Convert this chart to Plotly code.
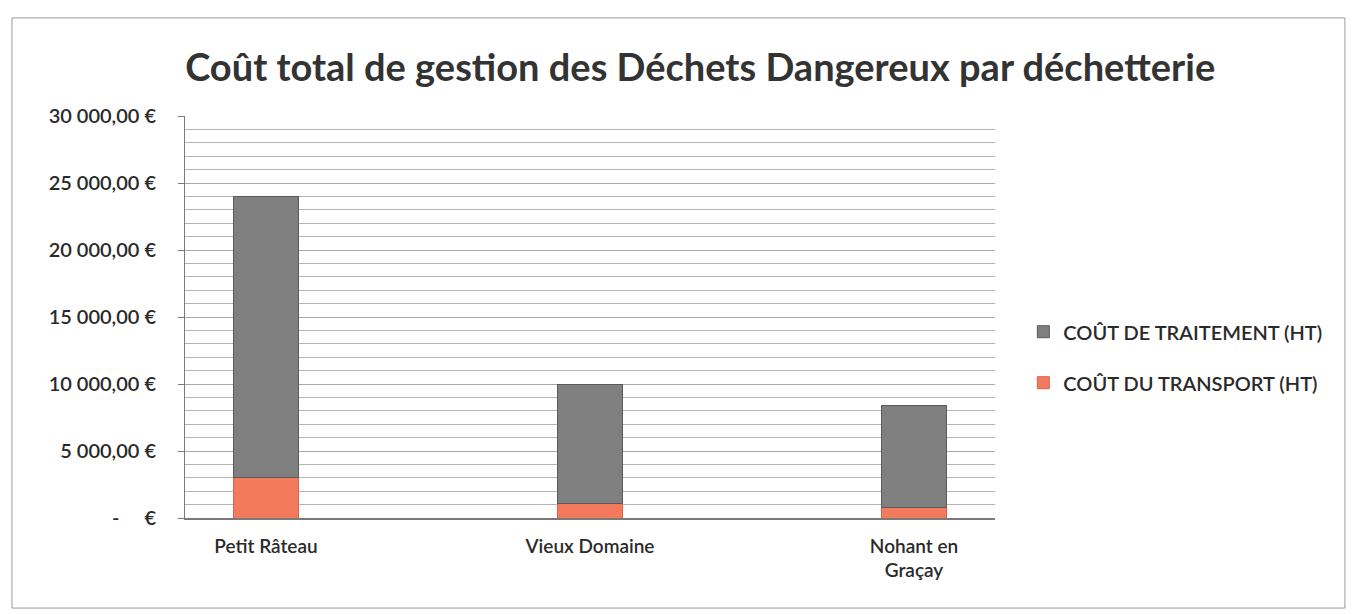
import plotly.graph_objects as go

# Données
sites = ["Petit Râteau", "Vieux Domaine", "Nohant en<br>Graçay"]
cout_transport = [3000, 1100, 800]
cout_traitement = [21000, 8900, 7600]

tick_vals = [0, 5000, 10000, 15000, 20000, 25000, 30000]
tick_text = ["-     €", "5 000,00 €", "10 000,00 €", "15 000,00 €",
             "20 000,00 €", "25 000,00 €", "30 000,00 €"]

font_family = "Lato, 'Open Sans', sans-serif"
text_color = "#2a2a2a"

fig = go.Figure()
fig.add_trace(go.Bar(
    x=sites, y=cout_transport, name="COÛT DU TRANSPORT (HT)",
    legendgroup="transport", legendrank=2,
    marker=dict(color="#f47a5e", line=dict(color="#d9624a", width=1))))
fig.add_trace(go.Bar(
    x=sites, y=cout_traitement, name="COÛT DE TRAITEMENT (HT)",
    legendgroup="traitement", legendrank=1,
    marker=dict(color="#808080", line=dict(color="#5a5a5a", width=1))))

fig.update_layout(
    barmode="stack",
    bargap=0.8,
    width=1357, height=614,
    paper_bgcolor="white", plot_bgcolor="white",
    margin=dict(l=177, r=370, t=108, b=104),
    font=dict(family=font_family, size=19, color=text_color),
    title=dict(
        text="<b>Coût total de gestion des Déchets Dangereux par déchetterie</b>",
        x=0.636, xref="paper", xanchor="center", y=0.902, yanchor="middle",
        font=dict(size=38, color="#333333")),
    legend=dict(
        x=1.035, y=0.40, xanchor="left", yanchor="middle",
        traceorder="grouped", tracegroupgap=22,
        font=dict(size=20, color=text_color, weight=600), itemwidth=30),
    showlegend=True,
)

fig.update_yaxes(
    range=[0, 30000], tickvals=tick_vals, ticktext=tick_text,
    showline=True, linecolor="#7a7a7a", linewidth=1,
    ticks="outside", ticklen=6, tickcolor="#7a7a7a",
    ticklabelstandoff=18,
    showgrid=True, gridcolor="#a8a8a8", gridwidth=1,
    minor=dict(dtick=1000, showgrid=True, gridcolor="#b4b4b4", gridwidth=1),
    zeroline=False, tickfont=dict(size=20, color=text_color, weight=600))

fig.update_xaxes(
    range=[-0.25, 2.25],
    showline=True, linecolor="#7a7a7a", linewidth=1.5,
    ticks="", ticklabelstandoff=10,
    tickfont=dict(size=19, color=text_color, weight=600))

# Cadre du graphique
fig.add_shape(type="rect", xref="paper", yref="paper",
              x0=-0.2136, x1=1.432, y0=-0.224, y1=1.244,
              line=dict(color="#9a9a9a", width=1))

fig.write_html("out.html")
